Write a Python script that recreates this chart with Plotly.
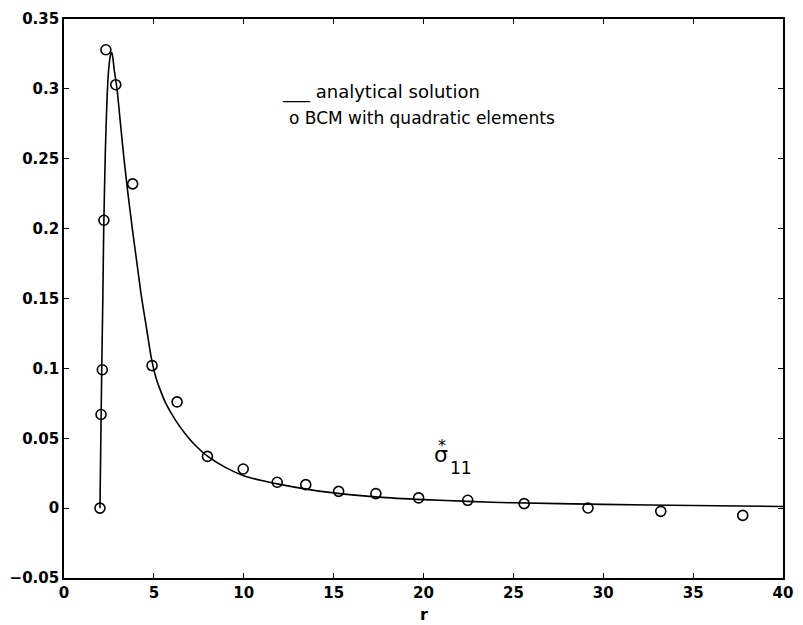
import plotly.graph_objects as go

# Analytical solution
r_analytical = [2.0, 2.05, 2.1, 2.16, 2.21, 2.3, 2.4, 2.5, 2.6, 2.66, 2.72, 2.8, 2.95, 3.12, 3.32,
                3.55, 3.8, 4.05, 4.3, 4.6, 4.85, 5.1, 5.4, 5.7, 6.2, 6.7, 7.3, 8.0, 9.0, 10.0, 11.0,
                12.0, 13.5, 15.0, 17.5, 20.0, 22.5, 25.0, 30.0, 35.0, 40.0]
s_analytical = [0.0, 0.05, 0.1, 0.15, 0.2, 0.255, 0.295, 0.316, 0.325, 0.326, 0.322, 0.313, 0.3, 0.278, 0.252,
                0.226, 0.2, 0.176, 0.152, 0.128, 0.108, 0.094, 0.083, 0.074, 0.063, 0.054, 0.045, 0.037, 0.029,
                0.0232, 0.0197, 0.017, 0.0136, 0.0109, 0.0079, 0.0061, 0.0048, 0.0038, 0.0027, 0.0019, 0.0012]

# BCM with quadratic elements
r_bcm = [2.0, 2.06, 2.13, 2.22, 2.33, 2.88, 3.82, 4.9, 6.29, 7.98, 9.97, 11.86, 13.45, 15.28,
         17.35, 19.73, 22.46, 25.6, 29.15, 33.2, 37.76]
s_bcm = [0.0, 0.067, 0.099, 0.206, 0.328, 0.303, 0.232, 0.102, 0.076, 0.037, 0.028, 0.0185, 0.0168, 0.012,
         0.0104, 0.0073, 0.0056, 0.0032, 0.0001, -0.0023, -0.0052]

x_ticks = [0, 5, 10, 15, 20, 25, 30, 35, 40]
y_ticks = [-0.05, 0, 0.05, 0.1, 0.15, 0.2, 0.25, 0.3, 0.35]
y_ticklabels = ["\u22120.05", "0", "0.05", "0.1", "0.15", "0.2", "0.25", "0.3", "0.35"]

fig = go.Figure()
fig.add_trace(go.Scatter(x=r_analytical, y=s_analytical, mode="lines",
                         line=dict(color="black", width=1.6, shape="spline", smoothing=0.6),
                         showlegend=False))
fig.add_trace(go.Scatter(x=r_bcm, y=s_bcm, mode="markers",
                         marker=dict(symbol="circle-open", size=10, color="black",
                                     line=dict(width=1.6, color="black")),
                         showlegend=False))

tickfont = dict(family="DejaVu Sans", size=15, color="black")
axis_common = dict(showline=True, mirror="ticks", linecolor="black", linewidth=1.6,
                   ticks="inside", ticklen=5, tickwidth=1.2, tickcolor="black",
                   showgrid=False, zeroline=False, tickfont=tickfont)

fig.update_xaxes(range=[0, 40], tickvals=x_ticks, ticktext=[f"<b>{v}</b>" for v in x_ticks],
                 **axis_common)
fig.update_yaxes(range=[-0.05, 0.35], tickvals=y_ticks, ticktext=[f"<b>{t}</b>" for t in y_ticklabels],
                 **axis_common)

fig.add_annotation(x=12.04, y=0.2975, xref="x", yref="y", text="___ analytical solution",
                   showarrow=False, xanchor="left", yanchor="middle",
                   font=dict(family="DejaVu Sans", size=18, color="black"))
fig.add_annotation(x=12.4, y=0.279, xref="x", yref="y", text="o BCM with quadratic elements",
                   showarrow=False, xanchor="left", yanchor="middle",
                   font=dict(family="DejaVu Sans", size=17, color="black"))

fig.add_annotation(x=20.95, y=0.0383, xref="x", yref="y", text="σ", showarrow=False,
                   xanchor="center", yanchor="middle", font=dict(family="DejaVu Sans", size=22, color="black"))
fig.add_annotation(x=21.05, y=0.0445, xref="x", yref="y", text="*", showarrow=False,
                   xanchor="center", yanchor="middle", font=dict(family="DejaVu Sans", size=16, color="black"))
fig.add_annotation(x=22.1, y=0.029, xref="x", yref="y", text="11", showarrow=False,
                   xanchor="center", yanchor="middle", font=dict(family="DejaVu Sans", size=17, color="black"))

fig.add_annotation(x=20, y=0, xref="x", yref="paper", text="<b>r</b>", showarrow=False,
                   xanchor="center", yanchor="middle", yshift=-36,
                   font=dict(family="DejaVu Sans", size=16, color="black"))

fig.update_layout(width=803, height=625, paper_bgcolor="white", plot_bgcolor="white",
                  margin=dict(l=64, r=10, t=19, b=47), showlegend=False)

fig.write_html("out.html")
